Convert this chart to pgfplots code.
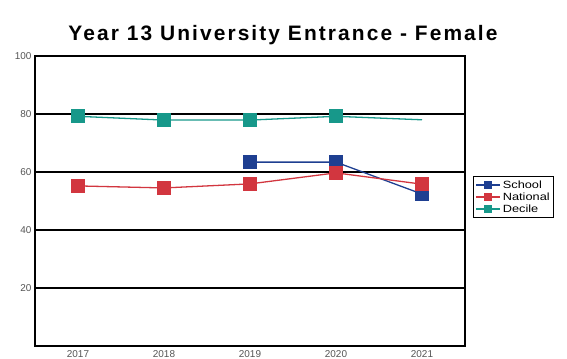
\documentclass[border=0pt]{standalone}
\usepackage{fontspec}
\setmainfont{Liberation Sans}
\usepackage{pgfplots}
\pgfplotsset{compat=1.18}
\definecolor{schoolblue}{HTML}{1E3F91}
\definecolor{natred}{HTML}{D2363F}
\definecolor{decteal}{HTML}{17988A}
\definecolor{ticktext}{HTML}{555555}
\begin{document}
\begin{tikzpicture}
% fixed page size: the axis box sits at (0,0)
\path[use as bounding box] (-35bp,-13bp) rectangle (532bp,346bp);
\begin{axis}[
  at={(0,0)}, anchor=south west,
  scale only axis, width=430bp, height=290bp,
  xmin=2016.5, xmax=2021.5, ymin=0, ymax=100,
  xtick={2017,2018,2019,2020,2021},
  ytick={20,40,60,80,100},
  xticklabels={2017,2018,2019,2020,2021},
  major tick length=0pt,
  ymajorgrids, grid style={black, line width=1.2pt},
  axis line style={line width=2.2pt},
  tick label style={font=\fontsize{10}{11}\selectfont, text=ticktext},
  /pgf/number format/assume math mode=true,
  /pgf/number format/1000 sep={},
  xticklabel style={yshift=-1bp},
  title={\bfseries\addfontfeature{LetterSpace=10}Year 13 University Entrance - Female},
  title style={font=\fontsize{21}{23}\selectfont, yshift=2bp, xshift=33bp},
  legend style={at={(1.0186,0.586)}, anchor=north west, draw=black, line width=0.8pt,
    font=\fontsize{10.5}{11}\selectfont\addfontfeature{FakeStretch=1.22},
    row sep=-1pt, inner sep=2pt},
  legend cell align=left,
  legend image code/.code={
    \draw[#1, line width=1.5pt] (0bp,0bp) -- (24bp,0bp);
    \fill[#1] (12bp,0bp) ++(-3.5bp,-3.5bp) rectangle ++(7bp,7bp);
  },
]
\addplot[schoolblue, line width=1.3pt, mark=square*, mark size=6.5bp,
  mark options={fill=schoolblue, draw=schoolblue}]
  coordinates {(2019,63.4) (2020,63.4) (2021,52.4)};
\addplot[natred, line width=1.3pt, mark=square*, mark size=6.5bp,
  mark options={fill=natred, draw=natred}]
  coordinates {(2017,55.2) (2018,54.5) (2019,55.9) (2020,59.7) (2021,55.8)};
\addplot[decteal, line width=1.3pt, mark=square*, mark size=6.5bp,
  mark options={fill=decteal, draw=decteal}, mark indices={1,2,3,4}]
  coordinates {(2017,79.2) (2018,77.9) (2019,77.9) (2020,79.2) (2021,78.0)};
\legend{School, National, Decile}
\end{axis}
\end{tikzpicture}
\end{document}
